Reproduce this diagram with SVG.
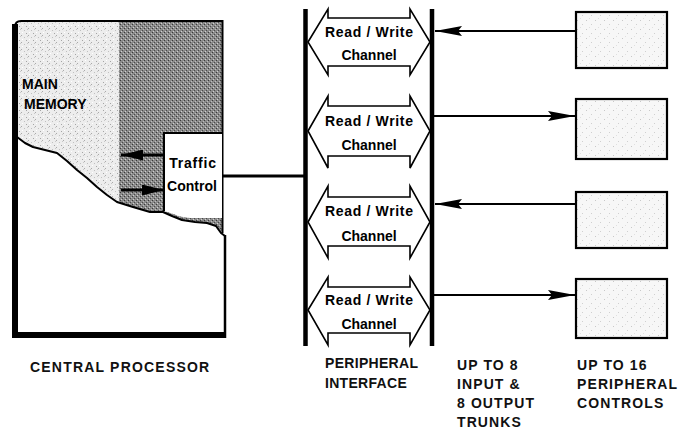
<svg xmlns="http://www.w3.org/2000/svg" width="688" height="430" viewBox="0 0 688 430">
<style>
.lbl{font-family:"Liberation Sans",Arial,sans-serif;font-weight:bold;font-size:14px;fill:#111}
.in{font-family:"Liberation Sans",Arial,sans-serif;font-weight:bold;font-size:14px;fill:#000}
.ch{fill:#fff;stroke:#000;stroke-width:1.6;stroke-linejoin:miter}
.pc{fill:url(#stipP);stroke:#000;stroke-width:2.2}
.bus{stroke:#000;stroke-width:4.5;fill:none}
.conn{stroke:#000;stroke-width:2;fill:none}
</style>
<defs>
<pattern id="stipL" width="7" height="7" patternUnits="userSpaceOnUse">
<rect width="7" height="7" fill="#ededed"/>
<rect x="0" y="0" width="1" height="1" fill="#aaa"/>
<rect x="3" y="2" width="1" height="1" fill="#c0c0c0"/>
<rect x="5" y="5" width="1" height="1" fill="#a5a5a5"/>
<rect x="1" y="4" width="1" height="1" fill="#fff"/>
<rect x="6" y="1" width="1" height="1" fill="#c8c8c8"/>
</pattern>
<pattern id="stipD" width="4" height="4" patternUnits="userSpaceOnUse">
<rect width="4" height="4" fill="#8a8a8a"/>
<rect x="0" y="0" width="1" height="1" fill="#3a3a3a"/>
<rect x="2" y="2" width="1" height="1" fill="#4a4a4a"/>
<rect x="1" y="3" width="1" height="1" fill="#d0d0d0"/>
<rect x="3" y="1" width="1" height="1" fill="#bdbdbd"/>
</pattern>
<pattern id="stipP" width="9" height="9" patternUnits="userSpaceOnUse">
<rect width="9" height="9" fill="#f7f7f7"/>
<rect x="1" y="2" width="1" height="1" fill="#c8c8c8"/>
<rect x="6" y="6" width="1" height="1" fill="#d0d0d0"/>
<rect x="4" y="0" width="1" height="1" fill="#e0e0e0"/>
</pattern>
<marker id="ah" viewBox="0 0 27 10" markerWidth="27" markerHeight="10" refX="27" refY="5" orient="auto" markerUnits="userSpaceOnUse">
<path d="M0,0 L27,5 L0,10 L4,5 z" fill="#000"/>
</marker>
<marker id="ahs" viewBox="0 0 22 11" markerWidth="22" markerHeight="11" refX="22" refY="5.5" orient="auto" markerUnits="userSpaceOnUse">
<path d="M0,0 L22,5.5 L0,11 z" fill="#000"/>
</marker>
</defs>

<g id="central-processor">
<polygon id="main-memory-fill" points="18,22 119,22 119,202.5 117,202 107,195 97,187 87,178 77,170 67,161 57,153 45,150 33,147 25,143 17,137" fill="url(#stipL)"/>
<polygon id="logic-fill" points="119,22 222,22 222,233 221,233 216,226 207,223 195,222 182,220 172,216 163,212 150,212 133,207 119,202.5" fill="url(#stipD)"/>
<polyline points="17,137 25,143 33,147 45,150 57,153 67,161 77,170 87,178 97,187 107,195 117,202 133,207 150,212 163,212 172,216 182,220 195,222 207,223 216,226 221,233 225,236" fill="none" stroke="#000" stroke-width="2" stroke-linejoin="round"/>
<path d="M15,337 L15,27 Q15,21 21,21 L223,21" fill="none" stroke="#000" stroke-width="2"/>
<line x1="15" y1="24" x2="15" y2="338" stroke="#000" stroke-width="6"/>
<line x1="12" y1="335" x2="226" y2="335" stroke="#000" stroke-width="6"/>
<line x1="222.5" y1="20" x2="222.5" y2="233" stroke="#000" stroke-width="2"/>
<line x1="225" y1="235" x2="225" y2="338" stroke="#000" stroke-width="2.5"/>
<text class="in" x="22" y="89">MAIN</text>
<text class="in" x="24" y="109">MEMORY</text>
</g>

<g id="traffic-control">
<polygon points="164,133 222,133 222,218 190,218 180,216.5 172,213.5 164,211" fill="#fff"/>
<polyline points="164,211 164,133 222,133" fill="none" stroke="#000" stroke-width="2"/>
<text class="in" x="193" y="168" text-anchor="middle" letter-spacing="0.8">Traffic</text>
<text class="in" x="192" y="191" text-anchor="middle">Control</text>
</g>

<g id="peripheral-interface">
<line class="bus" x1="305.5" y1="9" x2="305.5" y2="346"/>
<line class="bus" x1="432" y1="9" x2="432" y2="346"/>
</g>

<g id="channel-1">
<polygon class="ch" points="308,42 328,9 328,18 410,18 410,9 430,42 410,75 410,66 328,66 328,75"/>
<text class="in" x="369" y="37" text-anchor="middle" textLength="88" lengthAdjust="spacing">Read / Write</text>
<text class="in" x="369" y="60" text-anchor="middle">Channel</text>
</g>
<g id="channel-2">
<polygon class="ch" points="308,131 328,96 328,106 410,106 410,96 430,131 410,168 410,156 328,156 328,168"/>
<text class="in" x="369" y="126" text-anchor="middle" textLength="88" lengthAdjust="spacing">Read / Write</text>
<text class="in" x="369" y="150" text-anchor="middle">Channel</text>
</g>
<g id="channel-3">
<polygon class="ch" points="308,222 328,186 328,197 410,197 410,186 430,222 410,258 410,246 328,246 328,258"/>
<text class="in" x="369" y="216" text-anchor="middle" textLength="88" lengthAdjust="spacing">Read / Write</text>
<text class="in" x="369" y="241" text-anchor="middle">Channel</text>
</g>
<g id="channel-4">
<polygon class="ch" points="308,310 328,277 328,287 410,287 410,277 430,310 410,345 410,333 328,333 328,345"/>
<text class="in" x="369" y="305" text-anchor="middle" textLength="88" lengthAdjust="spacing">Read / Write</text>
<text class="in" x="369" y="329" text-anchor="middle">Channel</text>
</g>

<g id="peripheral-control-1"><rect class="pc" x="576" y="12" width="91" height="56"/></g>
<g id="peripheral-control-2"><rect class="pc" x="576" y="99" width="91" height="60"/></g>
<g id="peripheral-control-3"><rect class="pc" x="576" y="192" width="91" height="56"/></g>
<g id="peripheral-control-4"><rect class="pc" x="576" y="279" width="91" height="59"/></g>

<g id="connectors">
<line x1="164" y1="155" x2="121" y2="155" stroke="#000" stroke-width="3" marker-end="url(#ahs)"/>
<line x1="121" y1="190" x2="164" y2="190" stroke="#000" stroke-width="3" marker-end="url(#ahs)"/>
<line x1="223" y1="176" x2="304" y2="176" stroke="#000" stroke-width="3"/>
<line class="conn" x1="575" y1="31" x2="435" y2="31" marker-end="url(#ah)"/>
<line class="conn" x1="434" y1="116" x2="575" y2="116" marker-end="url(#ah)"/>
<line class="conn" x1="575" y1="204" x2="435" y2="204" marker-end="url(#ah)"/>
<line class="conn" x1="434" y1="295" x2="575" y2="295" marker-end="url(#ah)"/>
</g>

<g id="labels">
<text class="lbl" x="30" y="372" letter-spacing="1.2">CENTRAL PROCESSOR</text>
<text class="lbl" x="325" y="368" letter-spacing="0.3">PERIPHERAL</text>
<text class="lbl" x="325" y="388" letter-spacing="0.3">INTERFACE</text>
<text class="lbl" x="457" y="370" letter-spacing="1.1">UP TO 8</text>
<text class="lbl" x="457" y="389" letter-spacing="1.1">INPUT &amp;</text>
<text class="lbl" x="457" y="408" letter-spacing="1.1">8 OUTPUT</text>
<text class="lbl" x="457" y="427" letter-spacing="1.1">TRUNKS</text>
<text class="lbl" x="577" y="370" letter-spacing="1.1">UP TO 16</text>
<text class="lbl" x="577" y="389" letter-spacing="1.1">PERIPHERAL</text>
<text class="lbl" x="577" y="408" letter-spacing="1.1">CONTROLS</text>
</g>
</svg>
